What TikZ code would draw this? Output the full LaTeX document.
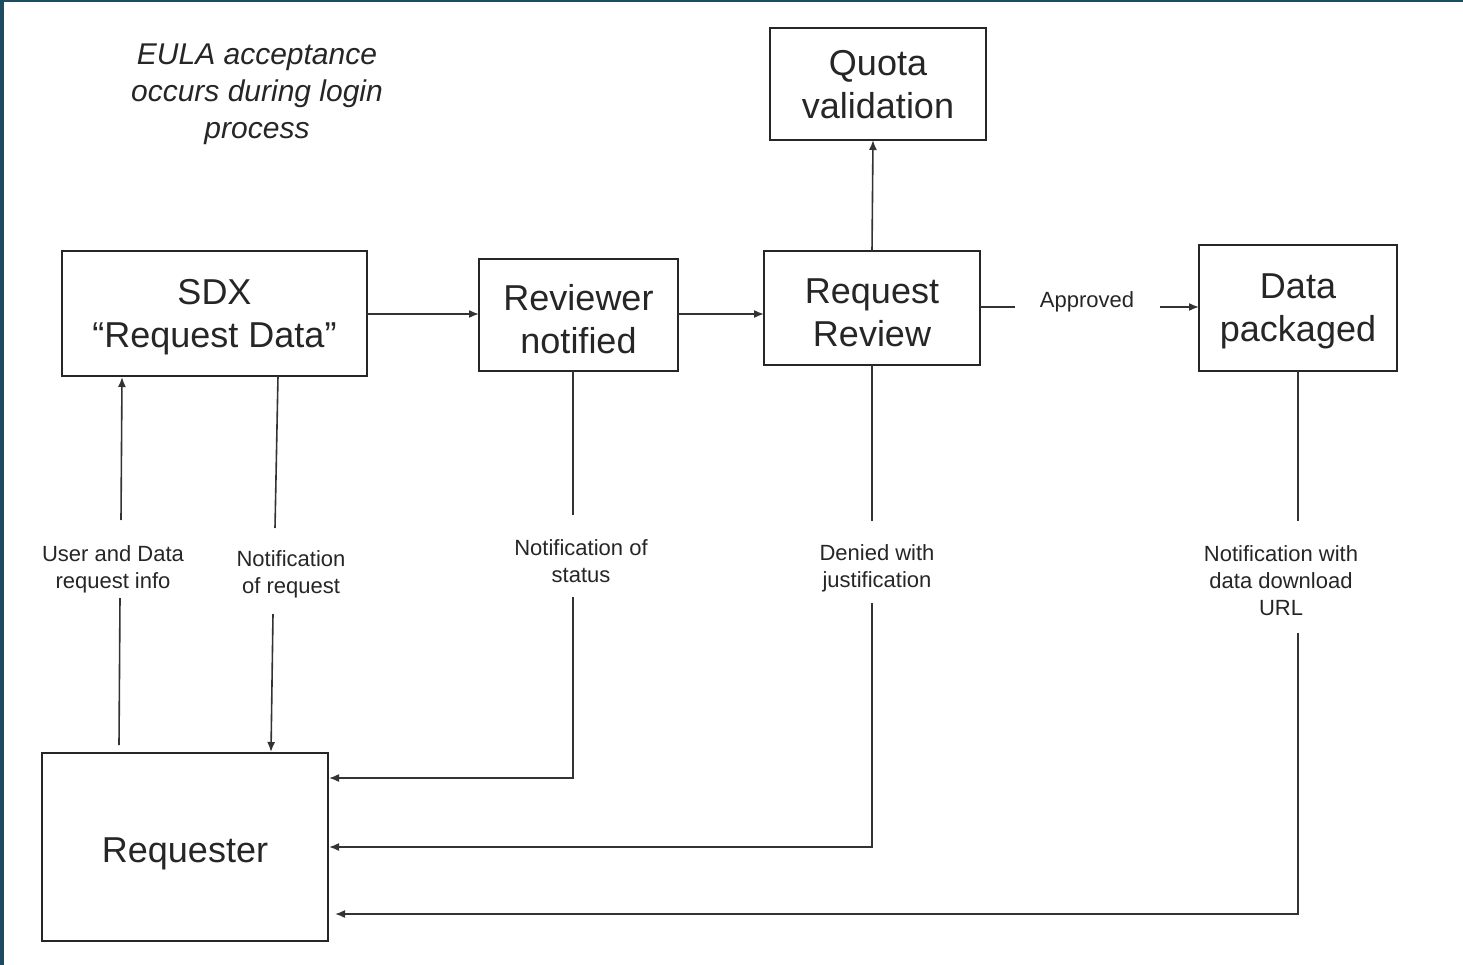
\documentclass[tikz,border=0pt]{standalone}
\usepackage{fontspec}
\setmainfont{Liberation Sans}
\usetikzlibrary{arrows.meta}
\definecolor{frame}{HTML}{1D4B60}
\definecolor{ink}{HTML}{262626}
\definecolor{lineink}{HTML}{333333}
\tikzset{
  box/.style={draw=ink, line width=2pt, align=center, inner sep=0pt, text=ink,
    text depth=0pt, font=\fontsize{36}{43}\selectfont},
  lab/.style={align=center, inner sep=0pt, text=ink, font=\fontsize{22}{27}\selectfont},
  conn/.style={draw=lineink, line width=1.6pt},
  arr/.style={conn, -{Latex[length=10pt,width=8pt]}}
}
\begin{document}
\begin{tikzpicture}[x=1pt,y=-1pt]
\useasboundingbox (0,0) rectangle (1463,965);
\fill[white] (0,0) rectangle (1463,965);
\fill[frame] (0,0) rectangle (1463,2.5);
\fill[frame] (0,0) rectangle (4,965);

% EULA note
\node[align=center, inner sep=0pt, text=ink, font=\fontsize{30}{37}\selectfont\itshape] (eula) at (257,94)
  {EULA acceptance\\occurs during login\\process};

% boxes
\node[box, minimum width=305pt, minimum height=125pt] (sdx) at (214.5,313.5) {SDX\\“Request Data”};
\node[box, minimum width=199pt, minimum height=112pt, text height=77pt] (rev) at (578.5,315) {Reviewer\\notified};
\node[box, minimum width=216pt, minimum height=114pt, text height=77pt] (rr) at (872,308) {Request\\Review};
\node[box, minimum width=216pt, minimum height=112pt] (quota) at (878,84) {Quota\\validation};
\node[box, minimum width=198pt, minimum height=126pt] (data) at (1298,308) {Data\\packaged};
\node[box, minimum width=286pt, minimum height=188pt, text height=30pt] (req) at (185,847) {Requester};

% labels
\node[lab] (l1) at (113,569) {User and Data\\request info};
\node[lab] (l2) at (291,574) {Notification\\of request};
\node[lab] (l3) at (581,561) {Notification of\\status};
\node[lab] (l4) at (877,568) {Denied with\\justification};
\node[lab] (l5) at (1281,581) {Notification with\\data download\\URL};
\node[lab] (l6) at (1087,302) {Approved};

% connector points
\coordinate (a1) at (119,745); \coordinate (a2) at (120,598);
\coordinate (a3) at (121,520); \coordinate (a4) at (122,377);
\coordinate (b1) at (278,376); \coordinate (b2) at (275,528);
\coordinate (b3) at (273,614); \coordinate (b4) at (271,752);
\coordinate (c1) at (573,371); \coordinate (c2) at (573,515);
\coordinate (c3) at (573,597); \coordinate (c4) at (573,778); \coordinate (c5) at (329,778);
\coordinate (d1) at (872,365); \coordinate (d2) at (872,521);
\coordinate (d3) at (872,603); \coordinate (d4) at (872,847); \coordinate (d5) at (329,847);
\coordinate (e1) at (1298,371); \coordinate (e2) at (1298,521);
\coordinate (e3) at (1298,633); \coordinate (e4) at (1298,914); \coordinate (e5) at (335,914);
\coordinate (f1) at (367,314); \coordinate (f2) at (479,314);
\coordinate (g1) at (678,314); \coordinate (g2) at (764,314);
\coordinate (h1) at (872,251); \coordinate (h2) at (873,140);
\coordinate (i1) at (980,307); \coordinate (i2) at (1015,307);
\coordinate (i3) at (1160,307); \coordinate (i4) at (1199,307);

% connectors
\draw[conn] (a1) -- (a2);
\draw[arr] (a3) -- (a4);
\draw[conn] (b1) -- (b2);
\draw[arr] (b3) -- (b4);
\draw[conn] (c1) -- (c2);
\draw[arr] (c3) -- (c4) -- (c5);
\draw[conn] (d1) -- (d2);
\draw[arr] (d3) -- (d4) -- (d5);
\draw[conn] (e1) -- (e2);
\draw[arr] (e3) -- (e4) -- (e5);
\draw[arr] (f1) -- (f2);
\draw[arr] (g1) -- (g2);
\draw[arr] (h1) -- (h2);
\draw[conn] (i1) -- (i2);
\draw[arr] (i3) -- (i4);
\end{tikzpicture}
\end{document}
